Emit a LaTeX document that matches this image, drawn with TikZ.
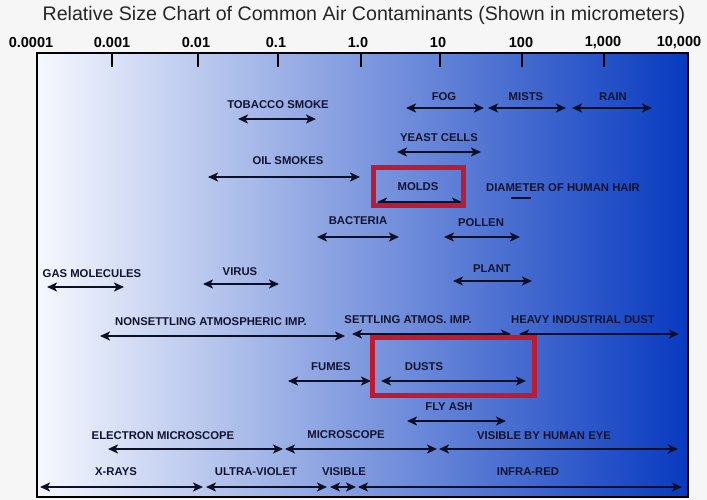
\documentclass[tikz,border=0pt]{standalone}
\usepackage{fontspec}
\setmainfont{Liberation Sans}
\usetikzlibrary{arrows.meta}
\definecolor{bgc}{RGB}{246,246,246}
\definecolor{ink}{RGB}{12,16,38}
\definecolor{labelc}{RGB}{16,20,48}
\definecolor{gleft}{RGB}{246,248,253}
\definecolor{gmid}{RGB}{128,156,225}
\definecolor{gright}{RGB}{8,58,192}
\definecolor{redbox}{RGB}{190,28,46}
\begin{document}
\begin{tikzpicture}[x=1bp,y=-1bp,
  lbl/.style={font=\bfseries\fontsize{11.3bp}{13bp}\selectfont, text=labelc, inner sep=0pt},
  axlbl/.style={font=\bfseries\fontsize{14.5bp}{16bp}\selectfont, text=black, inner sep=0pt},
  rng/.style={draw=ink, line width=2.4bp, {Stealth[length=10bp,width=9bp,inset=2.5bp]}-{Stealth[length=10bp,width=9bp,inset=2.5bp]}},
  tickmark/.style={draw=black, line width=2bp},
  hilite/.style={draw=redbox, line width=5bp}]
\useasboundingbox (0,0) rectangle (707,500);
\fill[bgc] (0,0) rectangle (707,500);
\shade[left color=gleft, middle color=gmid, right color=gright] (37,53) rectangle (688,497);
% title
\node[font=\fontsize{19.6bp}{22bp}\selectfont, text=black!85, inner sep=0pt] (title) at (364,15) {Relative Size Chart of Common Air Contaminants (Shown in micrometers)};
% axis labels
\node[axlbl] (a0) at (31,43) {0.0001};
\node[axlbl] (a1) at (112,43) {0.001};
\node[axlbl] (a2) at (196,43) {0.01};
\node[axlbl] (a3) at (276,43) {0.1};
\node[axlbl] (a4) at (358,43) {1.0};
\node[axlbl] (a5) at (438,43) {10};
\node[axlbl] (a6) at (521,43) {100};
\node[axlbl] (a7) at (603,43) {1,000};
\node[axlbl] (a8) at (679,43) {10,000};
\foreach \x in {112,198,278,361,440,522,604} \draw[tickmark] (\x,53) -- (\x,67);
% labels and ranges
\node[lbl] (tob) at (278,105) {TOBACCO SMOKE};
\coordinate (tobL) at (238,119); \coordinate (tobR) at (316,119);
\draw[rng] (tobL) -- (tobR);
\node[lbl] (fog) at (444,97) {FOG};
\coordinate (fogL) at (406,108); \coordinate (fogR) at (484,108);
\draw[rng] (fogL) -- (fogR);
\node[lbl] (mists) at (526,97) {MISTS};
\coordinate (misL) at (488,108); \coordinate (misR) at (566,108);
\draw[rng] (misL) -- (misR);
\node[lbl] (rain) at (613,97) {RAIN};
\coordinate (raiL) at (572,108); \coordinate (raiR) at (652,108);
\draw[rng] (raiL) -- (raiR);
\node[lbl] (yeast) at (439,138) {YEAST CELLS};
\coordinate (yeaL) at (397,152); \coordinate (yeaR) at (481,152);
\draw[rng] (yeaL) -- (yeaR);
\node[lbl] (oil) at (288,161) {OIL SMOKES};
\coordinate (oilL) at (208,177); \coordinate (oilR) at (360,177);
\draw[rng] (oilL) -- (oilR);
\node[lbl] (molds) at (418,187) {MOLDS};
\coordinate (molL) at (377,202); \coordinate (molR) at (462,202);
\draw[rng] (molL) -- (molR);
\node[lbl] (hair) at (563,188) {DIAMETER OF HUMAN HAIR};
\coordinate (haiL) at (511,198); \coordinate (haiR) at (531,198);
\draw[draw=ink, line width=2.2bp] (haiL) -- (haiR);
\node[lbl] (bact) at (358,221) {BACTERIA};
\coordinate (bacL) at (317,237); \coordinate (bacR) at (399,237);
\draw[rng] (bacL) -- (bacR);
\node[lbl] (pollen) at (481,223) {POLLEN};
\coordinate (polL) at (444,237); \coordinate (polR) at (520,237);
\draw[rng] (polL) -- (polR);
\node[lbl] (gas) at (92,274) {GAS MOLECULES};
\coordinate (gasL) at (47,287); \coordinate (gasR) at (124,287);
\draw[rng] (gasL) -- (gasR);
\node[lbl] (virus) at (240,272) {VIRUS};
\coordinate (virL) at (203,284); \coordinate (virR) at (279,284);
\draw[rng] (virL) -- (virR);
\node[lbl] (plant) at (492,269) {PLANT};
\coordinate (plaL) at (453,281); \coordinate (plaR) at (532,281);
\draw[rng] (plaL) -- (plaR);
\node[lbl] (nonsett) at (211,322) {NONSETTLING ATMOSPHERIC IMP.};
\coordinate (nonL) at (100,336); \coordinate (nonR) at (345,336);
\draw[rng] (nonL) -- (nonR);
\node[lbl] (sett) at (408,320) {SETTLING ATMOS. IMP.};
\coordinate (setL) at (352,334); \coordinate (setR) at (511,334);
\draw[rng] (setL) -- (setR);
\node[lbl] (heavy) at (583,320) {HEAVY INDUSTRIAL DUST};
\coordinate (heaL) at (519,334); \coordinate (heaR) at (679,334);
\draw[rng] (heaL) -- (heaR);
\node[lbl] (fumes) at (331,367) {FUMES};
\coordinate (fumL) at (288,381); \coordinate (fumR) at (371,381);
\draw[rng] (fumL) -- (fumR);
\node[lbl] (dusts) at (424,367) {DUSTS};
\coordinate (dusL) at (381,381); \coordinate (dusR) at (526,381);
\draw[rng] (dusL) -- (dusR);
\node[lbl] (flyash) at (449,407) {FLY ASH};
\coordinate (flyL) at (407,421); \coordinate (flyR) at (506,421);
\draw[rng] (flyL) -- (flyR);
\node[lbl] (electron) at (163,436) {ELECTRON MICROSCOPE};
\coordinate (eleL) at (108,449); \coordinate (eleR) at (283,449);
\draw[rng] (eleL) -- (eleR);
\node[lbl] (micro) at (346,435) {MICROSCOPE};
\coordinate (micL) at (285,449); \coordinate (micR) at (437,449);
\draw[rng] (micL) -- (micR);
\node[lbl] (eye) at (544,436) {VISIBLE BY HUMAN EYE};
\coordinate (eyeL) at (439,449); \coordinate (eyeR) at (678,449);
\draw[rng] (eyeL) -- (eyeR);
\node[lbl] (xray) at (116,472) {X-RAYS};
\coordinate (xraL) at (40,487); \coordinate (xraR) at (203,487);
\draw[rng] (xraL) -- (xraR);
\node[lbl] (uv) at (256,472) {ULTRA-VIOLET};
\coordinate (uvL) at (206,487); \coordinate (uvR) at (327,487);
\draw[rng] (uvL) -- (uvR);
\node[lbl] (visible) at (344,472) {VISIBLE};
\coordinate (visL) at (330,487); \coordinate (visR) at (356,487);
\draw[rng] (visL) -- (visR);
\node[lbl] (ir) at (528,472) {INFRA-RED};
\coordinate (irL) at (358,487); \coordinate (irR) at (682,487);
\draw[rng] (irL) -- (irR);
% highlight boxes
\draw[hilite] (373.5,167.5) rectangle (463.5,205.5);
\draw[hilite] (372.5,337.5) rectangle (534.5,395.5);
% frame
\draw[black, line width=2.5bp] (37,53) rectangle (688,497);
\end{tikzpicture}
\end{document}
